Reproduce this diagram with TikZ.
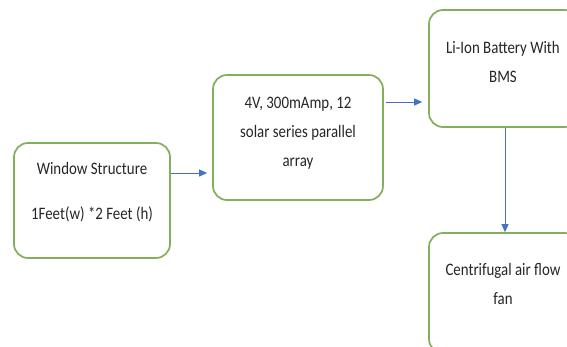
\documentclass[tikz,border=0pt]{standalone}
\usepackage{fontspec}
\setmainfont{Carlito}[FakeStretch=0.85]
\usetikzlibrary{arrows.meta}
\definecolor{boxgreen}{HTML}{85AD5E}
\definecolor{arrowblue}{HTML}{4472C4}
\tikzset{
  box/.style={draw=boxgreen, line width=1.7pt, rounded corners=14pt, fill=white, inner sep=0pt},
  txt/.style={align=center, font=\fontsize{17.5}{29}\selectfont, text=black!85, inner sep=0pt},
  conn/.style={draw=arrowblue, line width=1pt, -{Triangle[length=8pt,width=7pt]}}
}
\begin{document}
\begin{tikzpicture}[x=1pt,y=-1pt]
\useasboundingbox (0,0) rectangle (567,346);
\clip (0,0) rectangle (567,346);
\node[box, minimum width=156pt, minimum height=115pt] (b1) at (92,200.5) {};
\node[box, minimum width=170pt, minimum height=125pt] (b2) at (298,137.5) {};
\node[box, minimum width=150pt, minimum height=117pt] (b3) at (504,68.5) {};
\node[box, minimum width=150pt, minimum height=120pt] (b4) at (504,293) {};
\node[txt, font=\fontsize{17.5}{45}\selectfont] (t1) at (92,192.5) {Window Structure\\1Feet(w) *2 Feet (h)};
\node[txt] (t2) at (298,133.5) {4V, 300mAmp, 12\\solar series parallel\\array};
\node[txt] (t3) at (503,62) {Li-Ion Battery With\\BMS};
\node[txt] (t4) at (503,283.5) {Centrifugal air flow\\fan};
\draw[conn] ([yshift=27.5pt]b1.east) coordinate (s1) -- ([xshift=-5pt]s1 -| b2.west);
\draw[conn] ([xshift=2pt,yshift=35.5pt]b2.east) coordinate (s2) -- ([xshift=-6pt]s2 -| b3.west);
\draw[conn] ([xshift=1pt]b3.south) coordinate (s3) -- (s3 |- b4.north);
\end{tikzpicture}
\end{document}
